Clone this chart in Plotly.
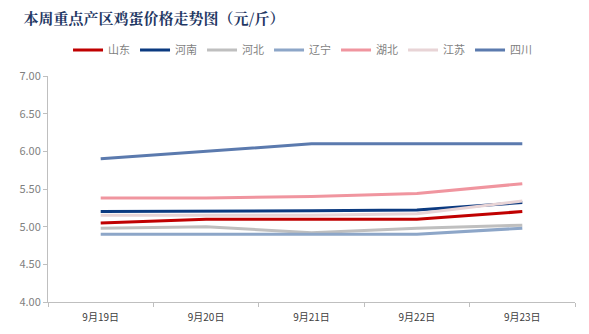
import plotly.graph_objects as go

dates = ["9月19日", "9月20日", "9月21日", "9月22日", "9月23日"]
names = ["山东", "河南", "河北", "辽宁", "湖北", "江苏", "四川"]
shandong = [5.05, 5.10, 5.10, 5.10, 5.20]
henan = [5.20, 5.20, 5.21, 5.22, 5.32]
hebei = [4.98, 5.00, 4.92, 4.98, 5.02]
liaoning = [4.90, 4.90, 4.90, 4.90, 4.98]
hubei = [5.38, 5.38, 5.40, 5.44, 5.57]
jiangsu = [5.15, 5.15, 5.15, 5.17, 5.34]
sichuan = [5.90, 6.00, 6.10, 6.10, 6.10]
series = [shandong, henan, hebei, liaoning, hubei, jiangsu, sichuan]
colors = ["#C00000", "#0B3A80", "#BFBFBF", "#8DA6C8", "#F0959F", "#E8D4D6", "#5B7AAE"]
yticks = [4.0, 4.5, 5.0, 5.5, 6.0, 6.5, 7.0]

fig = go.Figure()
for n, s, c in zip(names, series, colors):
    fig.add_trace(go.Scatter(x=dates, y=s, name=n, mode="lines",
                             line=dict(color=c, width=3)))

font = "Microsoft YaHei, Noto Sans CJK SC, sans-serif"
fig.update_layout(
    width=589, height=334,
    margin=dict(l=48, r=14, t=76, b=32),
    paper_bgcolor="white", plot_bgcolor="white",
    font=dict(family=font, size=11, color="#595959"),
    title=dict(text="<b>本周重点产区鸡蛋价格走势图（元/斤）</b>",
               x=0.04, xanchor="left", y=0.945, yanchor="middle",
               font=dict(family="Noto Serif CJK SC, Noto Sans CJK SC, serif", size=15, color="#1F3864")),
    legend=dict(orientation="h", x=0.038, xanchor="left", y=1.115, yanchor="middle",
                font=dict(size=11, color="#7F7F7F"), itemwidth=30, tracegroupgap=0,
                bgcolor="rgba(0,0,0,0)"),
    showlegend=True,
)
fig.update_xaxes(type="category", range=[-0.5, 4.5], showline=True, linecolor="#BFBFBF", linewidth=1,
                 ticks="outside", tickson="boundaries", ticklen=4, tickcolor="#BFBFBF",
                 ticklabelstandoff=6, automargin=False,
                 showgrid=False, tickfont=dict(size=10, color="#404040"))
fig.update_yaxes(range=[4.0, 7.0], tickvals=yticks,
                 ticktext=[f"{v:.2f}" for v in yticks],
                 showline=True, linecolor="#BFBFBF", linewidth=1, ticks="outside",
                 ticklen=4, tickcolor="#BFBFBF", showgrid=False, zeroline=False,
                 tickfont=dict(size=11, color="#7F7F7F"))

fig.write_html("out.html")
